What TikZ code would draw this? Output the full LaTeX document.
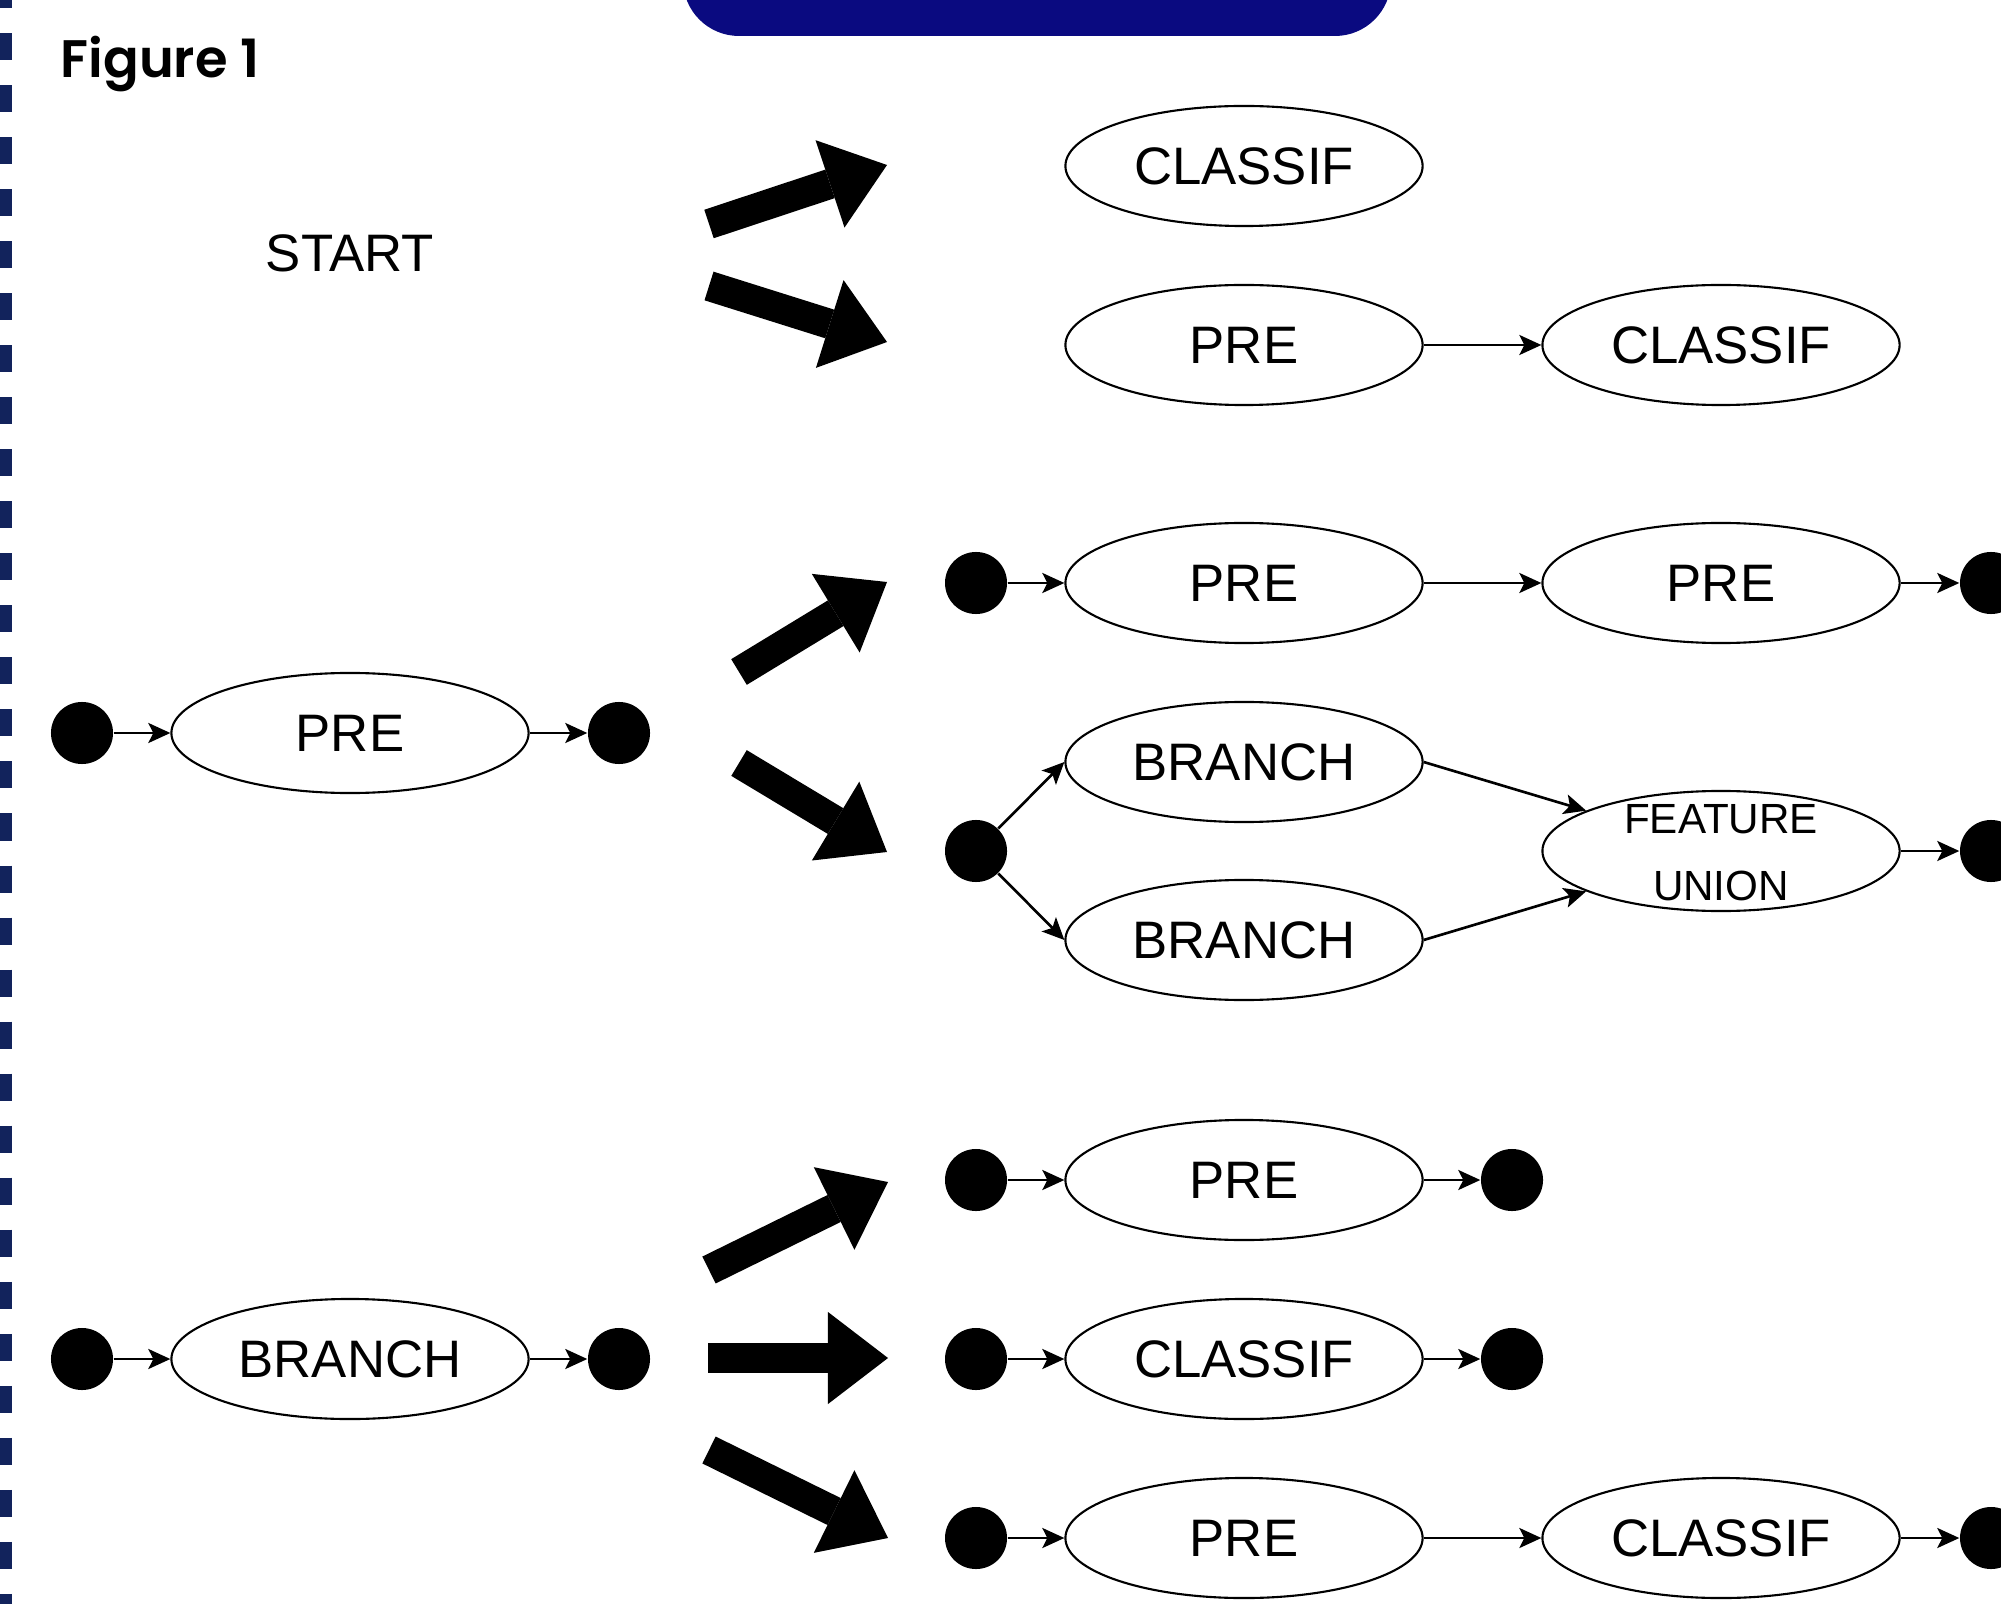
\documentclass[tikz,border=0pt]{standalone}
\usepackage{fontspec}
\setmainfont{Liberation Sans}
\newfontfamily\figfont{Poppins}[UprightFont=* SemiBold]
\usetikzlibrary{shapes.geometric,arrows.meta}
\definecolor{bannerblue}{RGB}{10,10,128}
\definecolor{bordernavy}{RGB}{18,35,92}

\begin{document}
\begin{tikzpicture}[x=0.01cm, y=-0.01cm,
    op/.style={draw, line width=0.6pt, ellipse, minimum width=3.57cm, minimum height=1.2cm,
      inner sep=0pt, font=\fontsize{15}{18}\selectfont},
    dot/.style={circle, fill=black, minimum size=0.62cm, inner sep=0pt},
    link/.style={line width=0.75pt, -{Stealth[length=0.22cm, width=0.2cm, inset=0.05cm]}},
    bigarrow/.style={line width=0.3cm, -{Triangle[length=0.6cm, width=0.92cm, line width=0pt]}}]
    \clip (0,0) rectangle (2001,1604);
    \fill[white] (0,0) rectangle (2001,1604);
    \draw[bordernavy, line width=0.12cm, dash pattern=on 0.27cm off 0.25cm] (6,-19) -- (6,1604);
    \fill[bannerblue, rounded corners=0.56cm] (683,-150) rectangle (1391,36);
    \node[anchor=base west, inner sep=0pt, font=\figfont\fontsize{15}{18}\selectfont] (fig) at (60,78) {Figure 1};

    % left column
    \node[font=\fontsize{15}{18}\selectfont] (start) at (350,253) {START};
    \node[dot] (pin) at (82,733) {};
    \node[op] (pre) at (350,733) {PRE};
    \node[dot] (pout) at (619,733) {};
    \node[dot] (bin) at (82,1359) {};
    \node[op] (branch) at (350,1359) {BRANCH};
    \node[dot] (bout) at (619,1359) {};
    \draw[link] (pin) -- (pre);
    \draw[link] (pre) -- (pout);
    \draw[link] (bin) -- (branch);
    \draw[link] (branch) -- (bout);

    % big arrows
    \coordinate (s1) at (709,224);  \coordinate (t1) at (887,165);
    \coordinate (s2) at (709,286);  \coordinate (t2) at (887,342);
    \coordinate (s3) at (739,672);  \coordinate (t3) at (887,582);
    \coordinate (s4) at (739,763);  \coordinate (t4) at (887,852);
    \coordinate (s5) at (709,1270); \coordinate (t5) at (888,1182);
    \coordinate (s6) at (708,1358); \coordinate (t6) at (888,1358);
    \coordinate (s7) at (709,1450); \coordinate (t7) at (888,1538);
    \foreach \i in {1,...,7}
        \draw[bigarrow] (s\i) -- (t\i);

    % from START
    \node[op] (cls1) at (1244,166) {CLASSIF};
    \node[op] (pre2) at (1244,345) {PRE};
    \node[op] (cls2) at (1721,345) {CLASSIF};
    \draw[link] (pre2) -- (cls2);

    % from PRE
    \node[dot] (d3a) at (976,583) {};
    \node[op] (pre3a) at (1244,583) {PRE};
    \node[op] (pre3b) at (1721,583) {PRE};
    \node[dot] (d3b) at (1991,583) {};
    \draw[link] (d3a) -- (pre3a);
    \draw[link] (pre3a) -- (pre3b);
    \draw[link] (pre3b) -- (d3b);

    \node[dot] (d4a) at (976,851) {};
    \node[op] (br4a) at (1244,762) {BRANCH};
    \node[op] (br4b) at (1244,940) {BRANCH};
    \node[op] (fu) at (1721,851) {};
    \node[font=\fontsize{12}{19}\selectfont, align=center] (fulabel) at (1721,853) {FEATURE\\UNION};
    \node[dot] (d4b) at (1991,851) {};
    \draw[link] (d4a) -- (br4a.west);
    \draw[link] (d4a) -- (br4b.west);
    \draw[link] (br4a.east) -- (fu);
    \draw[link] (br4b.east) -- (fu);
    \draw[link] (fu) -- (d4b);

    % from BRANCH
    \node[dot] (d5a) at (976,1180) {};
    \node[op] (pre5) at (1244,1180) {PRE};
    \node[dot] (d5b) at (1512,1180) {};
    \draw[link] (d5a) -- (pre5);
    \draw[link] (pre5) -- (d5b);

    \node[dot] (d6a) at (976,1359) {};
    \node[op] (cls6) at (1244,1359) {CLASSIF};
    \node[dot] (d6b) at (1512,1359) {};
    \draw[link] (d6a) -- (cls6);
    \draw[link] (cls6) -- (d6b);

    \node[dot] (d7a) at (976,1538) {};
    \node[op] (pre7) at (1244,1538) {PRE};
    \node[op] (cls7) at (1721,1538) {CLASSIF};
    \node[dot] (d7b) at (1991,1538) {};
    \draw[link] (d7a) -- (pre7);
    \draw[link] (pre7) -- (cls7);
    \draw[link] (cls7) -- (d7b);
\end{tikzpicture}
\end{document}
